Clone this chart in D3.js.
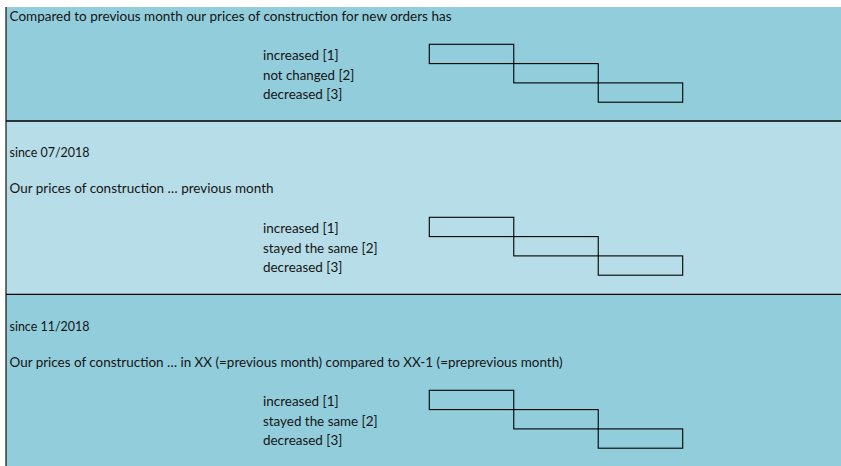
<!DOCTYPE html>
<html>
<head>
<meta charset="utf-8">
<script src="https://cdn.jsdelivr.net/npm/d3@7"></script>
<style>
  html, body { margin: 0; padding: 0; background: #ffffff; }
  svg { display: block; }
  text { font-family: Lato, "Open Sans", "Liberation Sans", sans-serif; font-size: 13px; fill: #141414; }
</style>
</head>
<body>
<svg id="chart" width="841" height="466"></svg>
<script>
// ---- data ----
const sectionIds = ["original", "since0718", "since1118"];
const sectionNotes = ["", "since 07/2018", "since 11/2018"];
const sectionQuestions = [
  "Compared to previous month our prices of construction for new orders has",
  "Our prices of construction \u2026  previous month",
  "Our prices of construction \u2026  in XX (=previous month) compared to XX-1 (=preprevious month)"
];
const optionCodes = [1, 2, 3];
const optionLabels1 = ["increased [1]", "not changed [2]", "decreased [3]"];
const optionLabels2 = ["increased [1]", "stayed the same [2]", "decreased [3]"];
const optionLabels3 = ["increased [1]", "stayed the same [2]", "decreased [3]"];
const sectionOptions = [optionLabels1, optionLabels2, optionLabels3];

// ---- layout ----
const svg = d3.select("#chart");
const W = 841, H = 466;
const panelLeft = 6, panelTop = 7;
const sectionBounds = [7, 121, 294.3, 466];
const sectionFill = ["#92cddc", "#b7dee8", "#92cddc"];
const boxTop = [44.3, 217.3, 390.3];
const rowStep = 19.3;
const textX = 9.5, optionX = 263;

// measured label widths to emulate the original narrow font
const widthOf = {
  "Compared to previous month our prices of construction for new orders has": 442,
  "since 07/2018": 80,
  "since 11/2018": 80,
  "Our prices of construction \u2026  previous month": 264,
  "Our prices of construction \u2026  in XX (=previous month) compared to XX-1 (=preprevious month)": 553,
  "increased [1]": 75.6,
  "not changed [2]": 91.3,
  "decreased [3]": 79.3,
  "stayed the same [2]": 114.6
};

const xBox = d3.scaleBand().domain(optionCodes).range([429.3, 682.7]).padding(0);
const yRow = d3.scaleLinear().domain([1, 4]).range([0, 3 * rowStep]);

function addText(g, str, x, y) {
  const t = g.append("text").attr("x", x).attr("y", y).text(str);
  if (widthOf[str]) t.attr("textLength", widthOf[str]).attr("lengthAdjust", "spacingAndGlyphs");
  return t;
}

sectionIds.forEach((id, i) => {
  const y0 = sectionBounds[i], y1 = sectionBounds[i + 1];
  const g = svg.append("g").attr("class", "section " + id);
  g.append("rect")
    .attr("x", panelLeft).attr("y", y0)
    .attr("width", W - panelLeft).attr("height", y1 - y0)
    .attr("fill", sectionFill[i]);

  if (i === 0) {
    addText(g, sectionQuestions[i], textX, 20.7);
  } else {
    addText(g, sectionNotes[i], textX, y0 + 36.3);
    addText(g, sectionQuestions[i], textX, y0 + 72.3);
  }

  const top = boxTop[i];
  sectionOptions[i].forEach((lab, k) => {
    addText(g, lab, optionX, top + 16 + yRow(optionCodes[k]) - yRow(1));
  });

  g.selectAll("rect.box").data(optionCodes).join("rect")
    .attr("class", "box")
    .attr("x", d => xBox(d))
    .attr("y", d => top + yRow(d) - yRow(1))
    .attr("width", xBox.bandwidth())
    .attr("height", rowStep)
    .attr("fill", "none")
    .attr("stroke", "#000")
    .attr("stroke-width", 1.1);
});

// divider lines and left border
svg.append("g").selectAll("line.div").data(sectionBounds.slice(1, 3)).join("line")
  .attr("x1", panelLeft).attr("x2", W)
  .attr("y1", d => d).attr("y2", d => d)
  .attr("stroke", "#000").attr("stroke-width", 1.3);

svg.append("line")
  .attr("x1", panelLeft).attr("x2", panelLeft)
  .attr("y1", panelTop).attr("y2", H)
  .attr("stroke", "#000").attr("stroke-width", 1.1);
</script>
</body>
</html>
